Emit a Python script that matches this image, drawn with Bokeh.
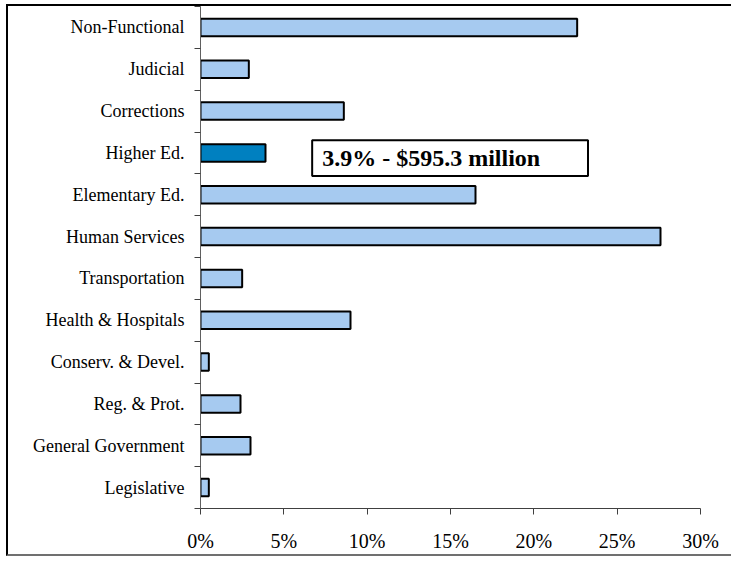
from bokeh.plotting import figure
from bokeh.models import (ColumnDataSource, Range1d, FixedTicker, BoxAnnotation, Label)
from bokeh.embed import file_html
from bokeh.resources import INLINE

# ---- data (top to bottom as shown) ----
categories = ["Non-Functional", "Judicial", "Corrections", "Higher Ed.",
              "Elementary Ed.", "Human Services", "Transportation",
              "Health & Hospitals", "Conserv. & Devel.", "Reg. & Prot.",
              "General Government", "Legislative"]
shares = [22.6, 2.9, 8.6, 3.9, 16.5, 27.6, 2.5, 9.0, 0.5, 2.4, 3.0, 0.5]
highlight = "Higher Ed."
x_ticks = [0, 5, 10, 15, 20, 25, 30]
x_tick_labels = ["0%", "5%", "10%", "15%", "20%", "25%", "30%"]
callout_text = "3.9% - $595.3 million"

n = len(categories)
ypos = [n - i - 0.5 for i in range(n)]
colors = ["#0080C0" if c == highlight else "#A6CAF0" for c in categories]

src = ColumnDataSource(dict(cat=categories, share=shares, y=ypos, color=colors))

W, H = 725, 552
p = figure(width=W, height=H, output_backend="svg", toolbar_location=None,
           x_range=Range1d(0, 30), y_range=Range1d(0, n),
           min_border_left=192, min_border_right=33, min_border_top=0,
           min_border_bottom=50,
           styles={"margin-left": "6px", "margin-top": "4px",
                   "border-left": "2px solid black",
                   "border-top": "2px solid black",
                   "border-bottom": "2px solid #707070"})
p.outline_line_color = None
p.xgrid.visible = False
p.ygrid.visible = False
p.background_fill_color = "white"
p.border_fill_color = "white"

p.hbar(y="y", left=0, right="share", height=0.42, source=src,
       fill_color="color", line_color="black", line_width=2)

# x axis
xa = p.xaxis[0]
xa.ticker = FixedTicker(ticks=x_ticks, minor_ticks=[])
xa.major_label_overrides = {t: l for t, l in zip(x_ticks, x_tick_labels)}
xa.axis_line_color = "#404040"
xa.major_tick_line_color = "#404040"
xa.major_tick_out = 6
xa.major_tick_in = 0
xa.minor_tick_line_color = None
xa.major_label_text_font = "Liberation Serif"
xa.major_label_text_font_size = "20px"
xa.major_label_text_color = "black"
xa.major_label_standoff = 15

# y axis
ya = p.yaxis[0]
ya.ticker = FixedTicker(ticks=ypos, minor_ticks=[float(i) for i in range(n + 1)])
ya.major_label_overrides = {y: c for y, c in zip(ypos, categories)}
ya.axis_line_color = "#606060"
ya.major_tick_line_color = None
ya.major_tick_out = 0
ya.major_tick_in = 0
ya.minor_tick_line_color = "#404040"
ya.minor_tick_out = 6
ya.minor_tick_in = 0
ya.major_label_text_font = "Liberation Serif"
ya.major_label_text_font_size = "18px"
ya.major_label_text_color = "black"
ya.major_label_standoff = 10

# callout box
p.add_layout(BoxAnnotation(left=6.7, right=23.25, top=8.8, bottom=7.95,
                           fill_color="white", fill_alpha=1.0,
                           line_color="black", line_alpha=1.0, line_width=2,
                           level="underlay"))
p.add_layout(Label(x=7.3, y=8.38, text=callout_text, text_font="Liberation Serif",
                   text_font_style="bold", text_font_size="24px",
                   text_baseline="middle", text_align="left", text_color="black"))

open("out.html", "w").write(file_html(p, INLINE))
